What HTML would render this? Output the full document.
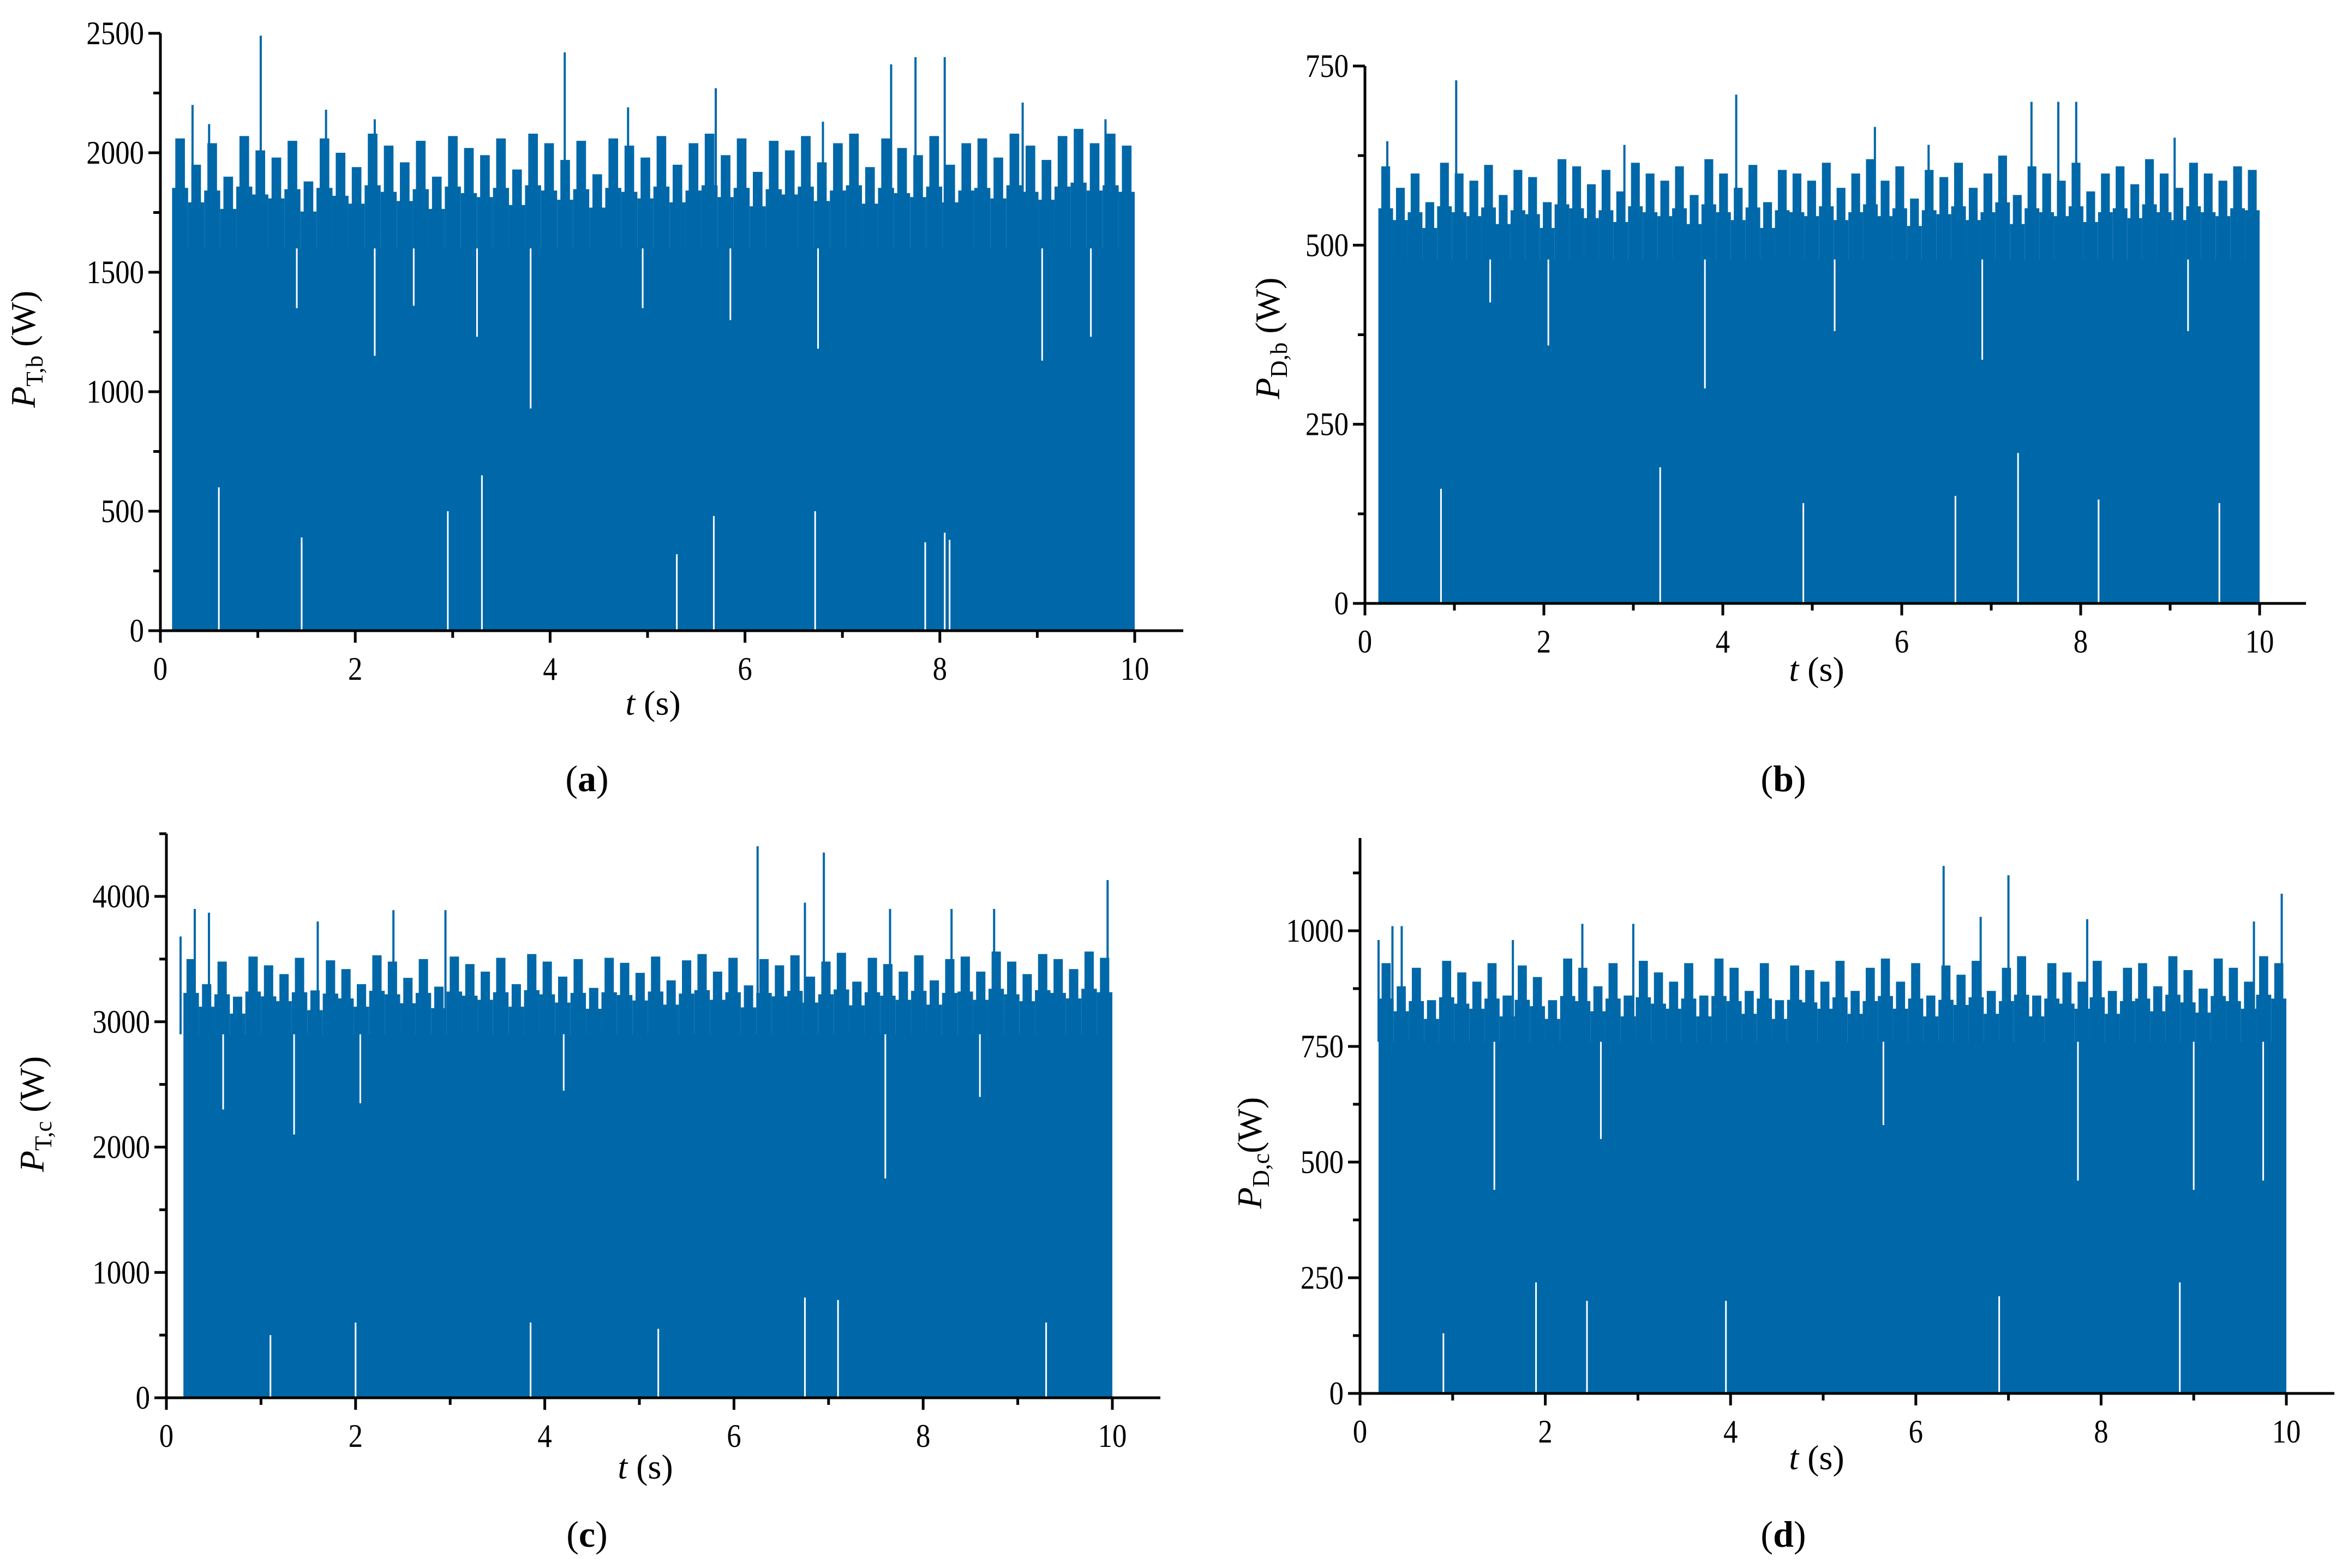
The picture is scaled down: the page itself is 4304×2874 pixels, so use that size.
<!DOCTYPE html>
<html><head><meta charset="utf-8">
<style>
html,body{margin:0;padding:0;background:#fff;}
svg{display:block;}
text{font-family:"Liberation Serif",serif;fill:#000;}
</style></head>
<body>
<svg id="fig" width="4304" height="2874" viewBox="0 0 4304 2874" xmlns="http://www.w3.org/2000/svg"></svg>
<script>
// ---- data ----
const aTicksY = [0,500,1000,1500,2000,2500];
const aLevel = 2050, aCore = 1600, aStart = 0.12, aEnd = 10;
const aSpikesT = [1.03,4.15,7.5,7.75,8.05,5.7,0.33,1.7,4.8,8.85,9.7,0.5,2.2,6.8];
const aSpikesV = [2490,2420,2370,2400,2400,2270,2200,2180,2190,2210,2140,2120,2140,2130];
const aDipsT = [3.8,2.2,3.25,5.85,6.75,9.05,9.55,1.4,2.6,4.95];
const aDipsV = [930,1150,1230,1300,1180,1130,1230,1350,1360,1350];
const aGapsT = [0.6,3.3,2.95,6.72,5.68,8.05,7.85,1.45,5.3,8.1];
const aGapsV = [600,650,500,500,480,410,370,390,320,380];
const aFringe = [2060,1950,2040,1900,2070,2010,1980,2050,1880,2060,2000,1940,2080,2030,1960,2050,1900,2070,2020,1990,2060,1930,2080,2040,1970,2050,1910,2060,2030,1980,2070,1950,2040,2080,1990,2060,1920,2050,2010,2070,1960,2040,2080,1940,2060,2020,1990,2070,1950,2040,2060,1980,2080,2030,1970,2070,2100,2040,2080,2030];

const bTicksY = [0,250,500,750];
const bLevel = 610, bCore = 480, bStart = 0.15, bEnd = 10;
const bSpikesT = [1.02,4.15,7.45,7.75,7.95,5.7,9.05,0.25,2.9,6.3];
const bSpikesV = [730,710,700,700,700,665,650,645,640,640];
const bDipsT = [3.8,2.05,5.25,6.9,9.2,1.4];
const bDipsV = [300,360,380,340,380,420];
const bGapsT = [0.85,3.3,4.9,6.6,7.3,8.2,9.55];
const bGapsV = [160,190,140,150,210,145,140];
const bFringe = [610,580,600,560,615,600,590,612,570,605,595,560,620,610,585,605,575,615,600,590,610,570,620,600,580,612,560,605,600,590,615,580,600,620,590,610,565,605,595,615,580,600,625,570,610,600,590,615,575,600,610,585,620,600,580,615,600,590,610,605];

const cTicksY = [0,1000,2000,3000,4000];
const cLevel = 3500, cCore = 2900, cStart = 0.18, cEnd = 10;
const cSpikesT = [6.25,6.95,9.95,6.75,7.65,0.3,2.4,2.95,8.3,8.75,0.15,0.45,1.6];
const cSpikesV = [4400,4350,4130,3950,3900,3900,3890,3890,3900,3900,3680,3870,3800];
const cDipsT = [7.6,1.35,0.6,2.05,4.2,8.6];
const cDipsV = [1750,2100,2300,2350,2450,2400];
const cGapsT = [2.0,3.85,6.75,7.1,9.3,1.1,5.2];
const cGapsV = [600,600,800,780,600,500,550];
const cFringe = [3500,3300,3480,3200,3520,3450,3380,3510,3250,3490,3420,3300,3530,3480,3350,3500,3280,3520,3460,3400,3510,3300,3540,3480,3360,3500,3270,3510,3470,3390,3520,3330,3490,3540,3400,3510,3290,3500,3450,3530,3360,3480,3550,3320,3510,3460,3400,3530,3330,3500,3520,3400,3560,3480,3380,3540,3500,3420,3560,3510];

const dTicksY = [0,250,500,750,1000];
const dLevel = 930, dCore = 760, dStart = 0.2, dEnd = 10;
const dSpikesT = [6.3,7.0,9.95,6.7,7.85,2.4,2.95,0.35,0.45,9.65,0.2,1.65];
const dSpikesV = [1140,1120,1080,1030,1025,1015,1015,1010,1010,1020,980,980];
const dDipsT = [1.45,7.75,9.0,9.75,2.6,5.65];
const dDipsV = [440,460,440,460,550,580];
const dGapsT = [1.9,2.45,3.95,6.9,8.85,0.9];
const dGapsV = [240,200,200,210,240,130];
const dFringe = [930,880,920,850,935,910,890,930,860,925,900,850,940,920,880,930,860,935,910,890,930,860,940,920,870,930,850,925,915,890,935,870,920,940,890,930,860,925,905,935,870,920,945,860,930,910,890,935,870,920,930,880,945,915,875,940,920,890,945,930];

const ticksX = [0,2,4,6,8,10];
const blue = "#0068a9";

const NS = "http://www.w3.org/2000/svg";
const svg = document.getElementById('fig');
function mk(tag, attrs, parent){
  const e = document.createElementNS(NS, tag);
  for (const k in attrs) e.setAttribute(k, attrs[k]);
  (parent||svg).appendChild(e);
  return e;
}

function panel(p){
  const g = mk('g', {});
  
  
  const X = t => p.x0 + (p.x10 - p.x0) * t / 10;
  const Y = v => p.y0 - (p.y0 - p.yRef) * v / p.vRef;
  const plot = mk('g', {}, g);
  
  
  const core = mk('rect', {x:X(p.start), y:Y(p.core), width:X(p.end)-X(p.start), height:Y(0)-Y(p.core), fill:blue}, plot);
  
  
  const n = p.fringe.length, step = (X(p.end)-X(p.start))/n;
  p.fringe.forEach((v,i)=>{
    const x = X(p.start) + step*(i+0.5);
    const mid = p.core + (v - p.core)*0.55;
    const r = mk('rect', {x:x-step*0.3, y:Y(v), width:step*0.6, height:Y(p.core)-Y(v)+1, fill:blue}, plot);
    
    
    const r2 = mk('rect', {x:x-step*0.5, y:Y(mid), width:step, height:Y(p.core)-Y(mid)+1, fill:blue}, plot);
    
    
  });
  p.spT.forEach((t,i)=>{
    const l = mk('line', {x1:X(t), x2:X(t), y1:Y(p.spV[i]), y2:Y(p.core), stroke:blue, 'stroke-width':4}, plot);
    
    
  });
  p.dpT.forEach((t,i)=>{
    const l = mk('line', {x1:X(t), x2:X(t), y1:Y(p.core), y2:Y(p.dpV[i]), stroke:'#fff', 'stroke-width':3}, plot);
    
    
  });
  p.gpT.forEach((t,i)=>{
    const l = mk('line', {x1:X(t), x2:X(t), y1:Y(0), y2:Y(p.gpV[i]), stroke:'#fff', 'stroke-width':3}, plot);
    
    
  });

  const yax = mk('line', {x1:p.x0, x2:p.x0, y1:p.yTop, y2:p.y0+2.5, stroke:'#000', 'stroke-width':5}, g);
  
  
  const xax = mk('line', {x1:p.x0-2.5, x2:p.xEnd, y1:p.y0, y2:p.y0, stroke:'#000', 'stroke-width':5}, g);
  
  
  const yStep = p.ticksY[1]-p.ticksY[0];
  const vMaxAxis = p.vRef*(p.y0-p.yTop)/(p.y0-p.yRef);
  for (let v=0; v<=vMaxAxis+1; v+=yStep/2){
    const major = Math.abs(v/yStep - Math.round(v/yStep))<1e-6;
    const tk = mk('line', {x1:p.x0, x2:p.x0-(major?22:13), y1:Y(v), y2:Y(v), stroke:'#000', 'stroke-width':5}, g);
    
    
  }
  p.ticksY.forEach(v=>{
    const t = mk('text', {x:0, y:0, 'text-anchor':'end', 'font-size':60, transform:`translate(${p.x0-30},${Y(v)+20}) scale(0.88,1)`}, g);
    t.textContent = v;
    
    
  });
  for (let t=0; t<=10; t++){
    const major = t%2===0;
    const tk = mk('line', {x1:X(t), x2:X(t), y1:p.y0, y2:p.y0+(major?22:13), stroke:'#000', 'stroke-width':5}, g);
    
    
  }
  ticksX.forEach(t=>{
    const e = mk('text', {x:0, y:0, 'text-anchor':'middle', 'font-size':60, transform:`translate(${X(t)},${p.y0+90}) scale(0.88,1)`}, g);
    e.textContent = t;
    
    
  });
  const xt = mk('text', {x:p.xt[0], y:p.xt[1], 'text-anchor':'middle', 'font-size':64}, g);
  xt.innerHTML = '<tspan font-style="italic">t</tspan> (s)';
  
  
  const yt = mk('text', {x:0, y:0, 'text-anchor':'middle', 'font-size':64, transform:`translate(${p.yt[0]},${p.yt[1]}) rotate(-90)`}, g);
  yt.innerHTML = '<tspan font-style="italic">P</tspan><tspan font-size="44" dy="14">'+p.sub+'</tspan><tspan dy="-14">'+p.unit+'</tspan>';
  
  
  const cap = mk('text', {x:p.cap[0], y:p.cap[1], 'text-anchor':'middle', 'font-size':68}, g);
  cap.innerHTML = '(<tspan font-weight="bold">'+p.letter+'</tspan>)';
  
  
}

panel({name:'panel-a', x0:294, x10:2080, xEnd:2169, y0:1156, yRef:61, vRef:2500, yTop:61,
  ticksY:aTicksY, level:aLevel, core:aCore, start:aStart, end:aEnd, fringe:aFringe,
  spT:aSpikesT, spV:aSpikesV, dpT:aDipsT, dpV:aDipsV, gpT:aGapsT, gpV:aGapsV,
  xt:[1197,1310], yt:[64,640], sub:'T,b', unit:' (W)', cap:[1076,1450], letter:'a'});
panel({name:'panel-b', x0:2502, x10:4142, xEnd:4227, y0:1106, yRef:121, vRef:750, yTop:121,
  ticksY:bTicksY, level:bLevel, core:bCore, start:bStart, end:bEnd, fringe:bFringe,
  spT:bSpikesT, spV:bSpikesV, dpT:bDipsT, dpV:bDipsV, gpT:bGapsT, gpV:bGapsV,
  xt:[3330,1248], yt:[2345,620], sub:'D,b', unit:' (W)', cap:[3269,1450], letter:'b'});
panel({name:'panel-c', x0:305, x10:2039, xEnd:2127, y0:2562, yRef:1643, vRef:4000, yTop:1528,
  ticksY:cTicksY, level:cLevel, core:cCore, start:cStart, end:cEnd, fringe:cFringe,
  spT:cSpikesT, spV:cSpikesV, dpT:cDipsT, dpV:cDipsV, gpT:cGapsT, gpV:cGapsV,
  xt:[1183,2710], yt:[80,2042], sub:'T,c', unit:' (W)', cap:[1076,2835], letter:'c'});
panel({name:'panel-d', x0:2493, x10:4191, xEnd:4279, y0:2554, yRef:1706, vRef:1000, yTop:1536,
  ticksY:dTicksY, level:dLevel, core:dCore, start:dStart, end:dEnd, fringe:dFringe,
  spT:dSpikesT, spV:dSpikesV, dpT:dDipsT, dpV:dDipsV, gpT:dGapsT, gpV:dGapsV,
  xt:[3330,2693], yt:[2312,2113], sub:'D,c', unit:'(W)', cap:[3269,2835], letter:'d'});
</script>
</body></html>
